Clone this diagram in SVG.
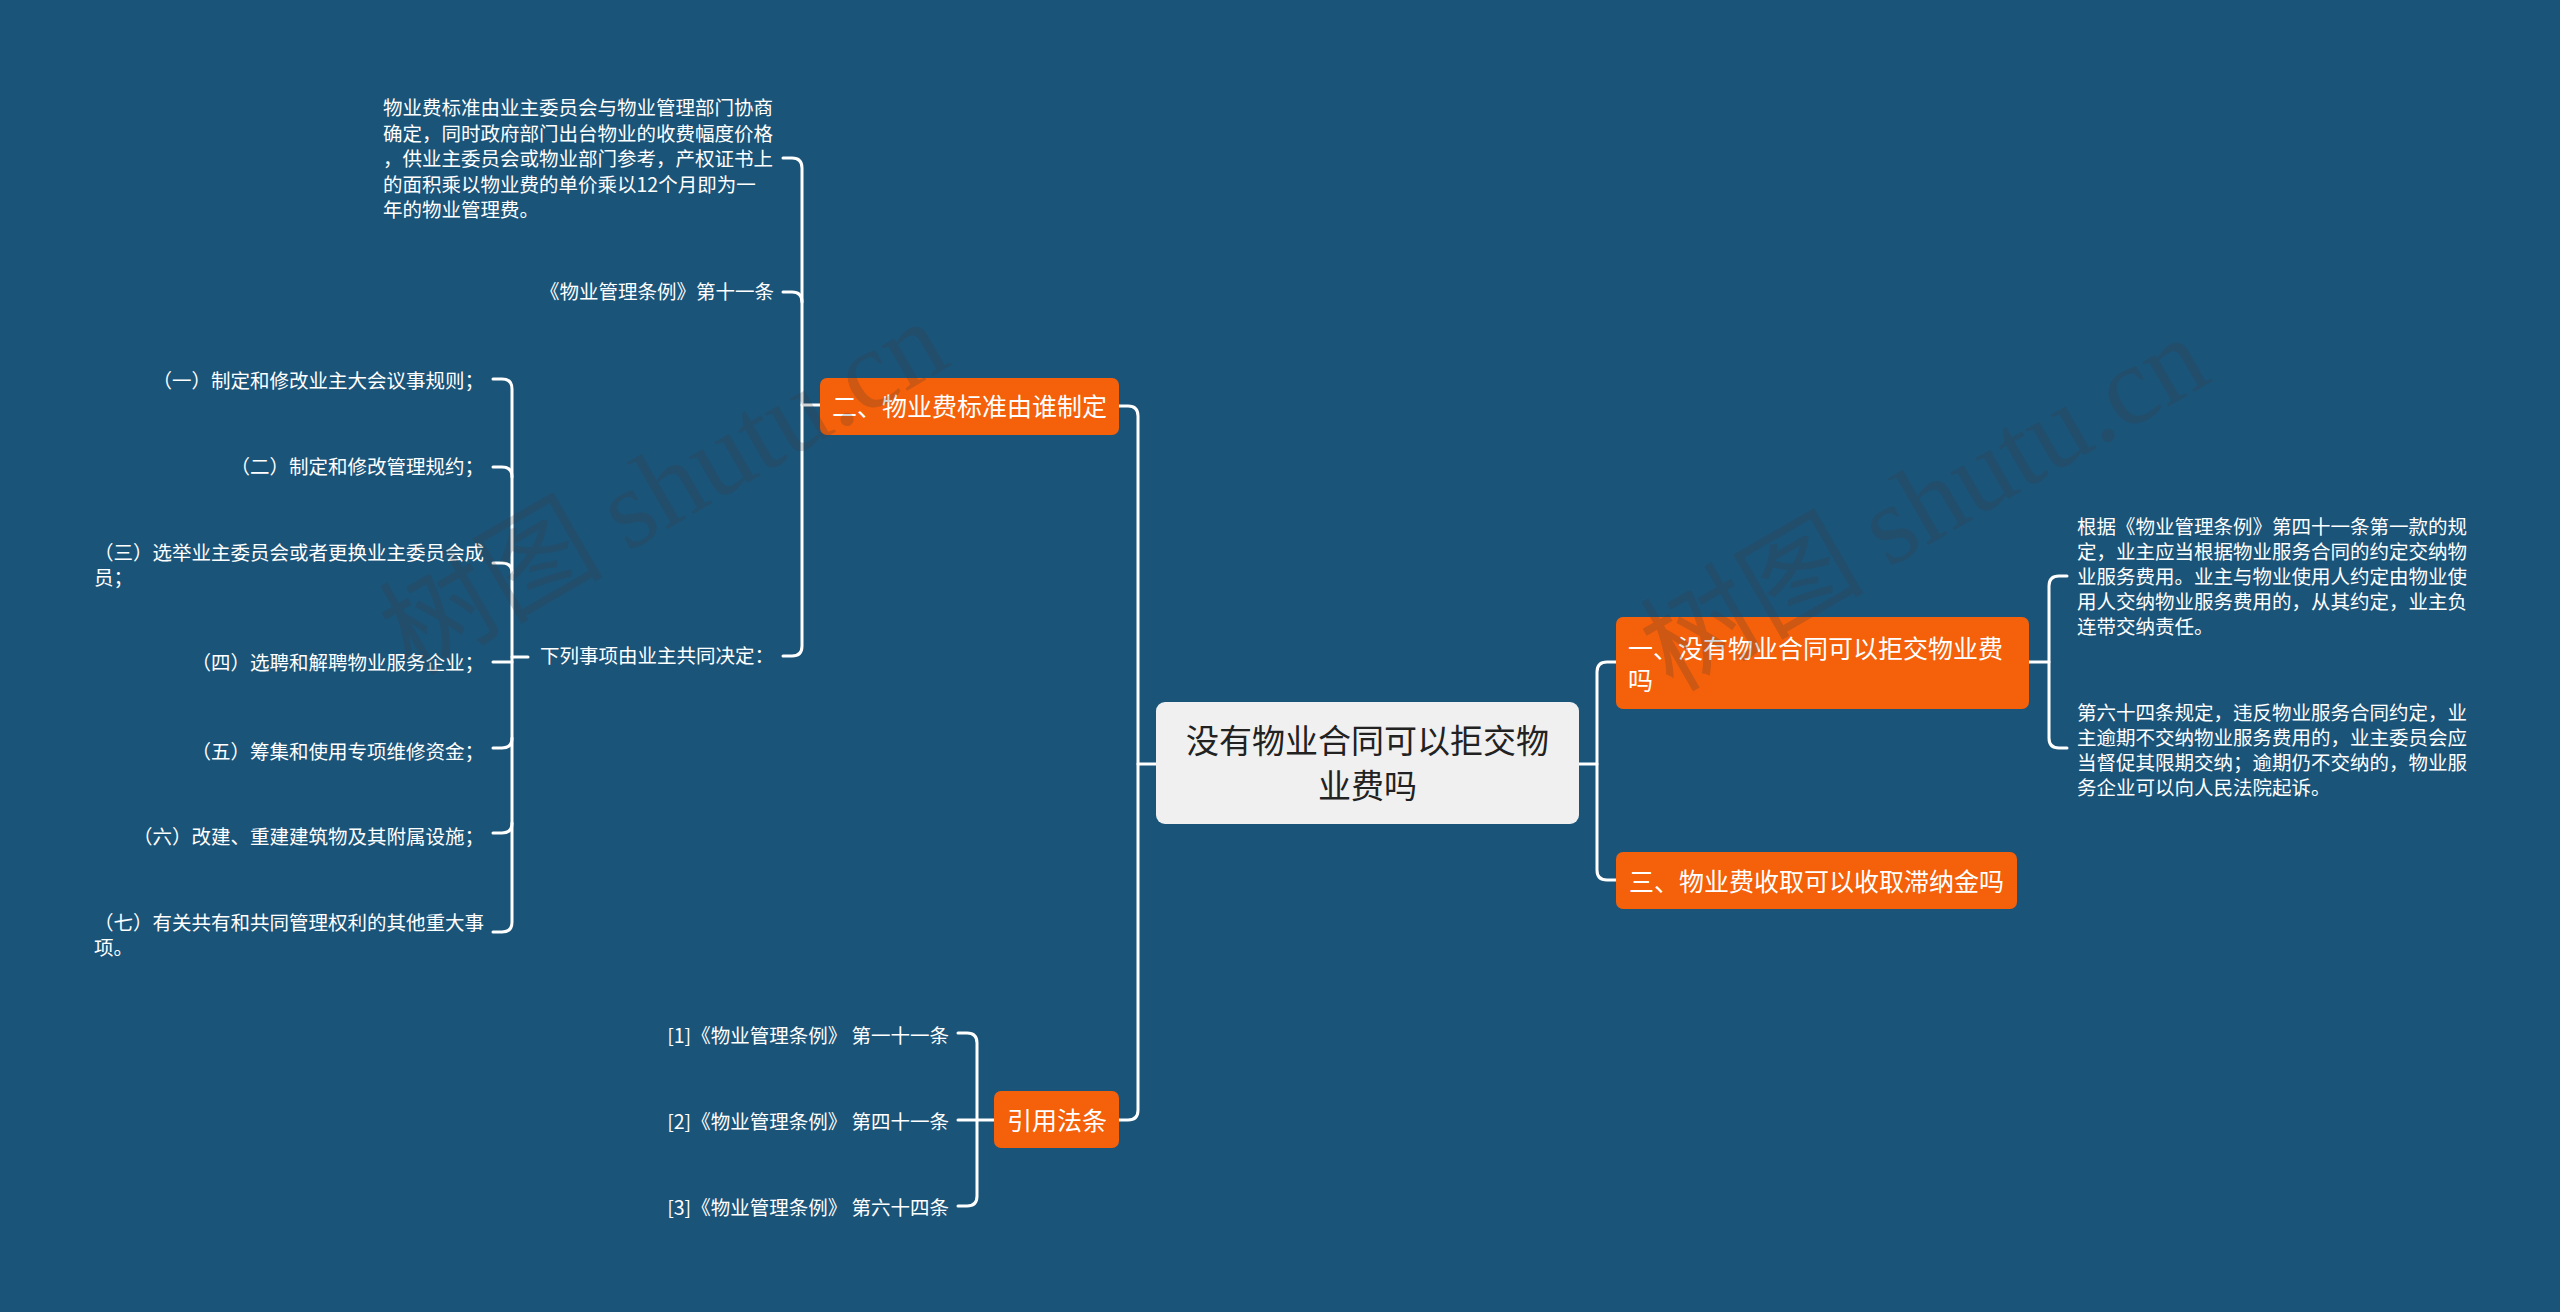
<svg xmlns="http://www.w3.org/2000/svg" width="2560" height="1312" viewBox="0 0 2560 1312">
<style>
text{font-family:"Noto Sans CJK SC","Noto Sans",sans-serif}
.leaf{font-size:19.5px;fill:#ffffff}
.main{font-size:25px;fill:#ffffff}
.root{font-size:33px;fill:#222222}
.box{fill:#f5600a}
.conn{fill:none;stroke:#ffffff;stroke-width:3;stroke-linecap:round}
.wm{font-size:112px;fill:#3a3a3a;fill-opacity:0.22}
</style>
<rect x="0" y="0" width="2560" height="1312" fill="#1b5479"/>

<g id="connectors">
  <path class="conn" d="M1118,406 H1128 Q1138,406 1138,416 V1110 Q1138,1120 1128,1120 H1118"/>
  <path class="conn" d="M1138,764 H1156"/>
  <path class="conn" d="M1579,764 H1597"/>
  <path class="conn" d="M1616,662 H1607 Q1597,662 1597,672 V870 Q1597,880 1607,880 H1616"/>
  <path class="conn" d="M820,405 H802"/>
  <path class="conn" d="M783,158 H792 Q802,158 802,168 V646 Q802,656 792,656 H783"/>
  <path class="conn" d="M783,292 H792 Q802,292 802,302"/>
  <path class="conn" d="M528,657 H512"/>
  <path class="conn" d="M493,379 H502 Q512,379 512,389 V922 Q512,932 502,932 H493"/>
  <path class="conn" d="M493,467 H502 Q512,467 512,477"/>
  <path class="conn" d="M493,563 H502 Q512,563 512,573"/>
  <path class="conn" d="M493,662 H512"/>
  <path class="conn" d="M493,748 H502 Q512,748 512,738"/>
  <path class="conn" d="M493,833 H502 Q512,833 512,823"/>
  <path class="conn" d="M994,1120 H977"/>
  <path class="conn" d="M958,1033 H967 Q977,1033 977,1043 V1196 Q977,1206 967,1206 H958"/>
  <path class="conn" d="M958,1120 H977"/>
  <path class="conn" d="M2029,662 H2049"/>
  <path class="conn" d="M2067,576 H2059 Q2049,576 2049,586 V738 Q2049,748 2059,748 H2067"/>
</g>

<g id="root">
  <rect x="1156" y="702" width="423" height="122" rx="9" fill="#f0f0f0"/>
  <text class="root" x="1367.5" y="752.5" text-anchor="middle">没有物业合同可以拒交物</text>
  <text class="root" x="1367.5" y="797.5" text-anchor="middle">业费吗</text>
</g>

<g id="node-2">
  <rect class="box" x="820" y="378" width="299" height="57" rx="7"/>
  <text class="main" x="832" y="415.5">二、物业费标准由谁制定</text>
</g>

<g id="node-1">
  <rect class="box" x="1616" y="617" width="413" height="92" rx="7"/>
  <text class="main" x="1628" y="657.5">一、没有物业合同可以拒交物业费</text>
  <text class="main" x="1628" y="689.5">吗</text>
</g>

<g id="node-3">
  <rect class="box" x="1616" y="852" width="401" height="57" rx="7"/>
  <text class="main" x="1629" y="890.5">三、物业费收取可以收取滞纳金吗</text>
</g>

<g id="node-ref">
  <rect class="box" x="994" y="1091" width="125" height="57" rx="7"/>
  <text class="main" x="1007" y="1129.5">引用法条</text>
</g>

<g id="leaf-paragraph">
  <text class="leaf" x="383" y="115.4">物业费标准由业主委员会与物业管理部门协商</text>
  <text class="leaf" x="383" y="140.9">确定，同时政府部门出台物业的收费幅度价格</text>
  <text class="leaf" x="383" y="166.4">，供业主委员会或物业部门参考，产权证书上</text>
  <text class="leaf" x="383" y="191.9">的面积乘以物业费的单价乘以12个月即为一</text>
  <text class="leaf" x="383" y="217.4">年的物业管理费。</text>
</g>

<g id="leaf-rule11">
  <text class="leaf" x="774" y="299.4" text-anchor="end">《物业管理条例》第十一条</text>
</g>

<g id="leaf-decide">
  <text class="leaf" x="774" y="663.4" text-anchor="end">下列事项由业主共同决定：</text>
</g>

<g id="leaf-items">
  <text class="leaf" x="484" y="388.4" text-anchor="end">（一）制定和修改业主大会议事规则；</text>
  <text class="leaf" x="484" y="474.4" text-anchor="end">（二）制定和修改管理规约；</text>
  <text class="leaf" x="94" y="560.4">（三）选举业主委员会或者更换业主委员会成</text>
  <text class="leaf" x="94" y="585.4">员；</text>
  <text class="leaf" x="484" y="670.4" text-anchor="end">（四）选聘和解聘物业服务企业；</text>
  <text class="leaf" x="484" y="759.4" text-anchor="end">（五）筹集和使用专项维修资金；</text>
  <text class="leaf" x="484" y="844.4" text-anchor="end">（六）改建、重建建筑物及其附属设施；</text>
  <text class="leaf" x="94" y="930.4">（七）有关共有和共同管理权利的其他重大事</text>
  <text class="leaf" x="94" y="955.4">项。</text>
</g>

<g id="leaf-refs">
  <text class="leaf" x="949" y="1043.4" text-anchor="end">[1]《物业管理条例》 第一十一条</text>
  <text class="leaf" x="949" y="1129.4" text-anchor="end">[2]《物业管理条例》 第四十一条</text>
  <text class="leaf" x="949" y="1215.4" text-anchor="end">[3]《物业管理条例》 第六十四条</text>
</g>

<g id="leaf-right-1">
  <text class="leaf" x="2077" y="534.4">根据《物业管理条例》第四十一条第一款的规</text>
  <text class="leaf" x="2077" y="559.4">定，业主应当根据物业服务合同的约定交纳物</text>
  <text class="leaf" x="2077" y="584.4">业服务费用。业主与物业使用人约定由物业使</text>
  <text class="leaf" x="2077" y="609.4">用人交纳物业服务费用的，从其约定，业主负</text>
  <text class="leaf" x="2077" y="634.4">连带交纳责任。</text>
</g>

<g id="leaf-right-2">
  <text class="leaf" x="2077" y="720.4">第六十四条规定，违反物业服务合同约定，业</text>
  <text class="leaf" x="2077" y="745.4">主逾期不交纳物业服务费用的，业主委员会应</text>
  <text class="leaf" x="2077" y="770.4">当督促其限期交纳；逾期仍不交纳的，物业服</text>
  <text class="leaf" x="2077" y="795.4">务企业可以向人民法院起诉。</text>
</g>

<g id="watermark">
  <text class="wm" x="665" y="525" text-anchor="middle" transform="rotate(-30 665 490)">树图 <tspan font-family="Liberation Serif, serif">shutu.cn</tspan></text>
  <text class="wm" x="1926" y="541" text-anchor="middle" transform="rotate(-30 1926 506)">树图 <tspan font-family="Liberation Serif, serif">shutu.cn</tspan></text>
</g>
</svg>
